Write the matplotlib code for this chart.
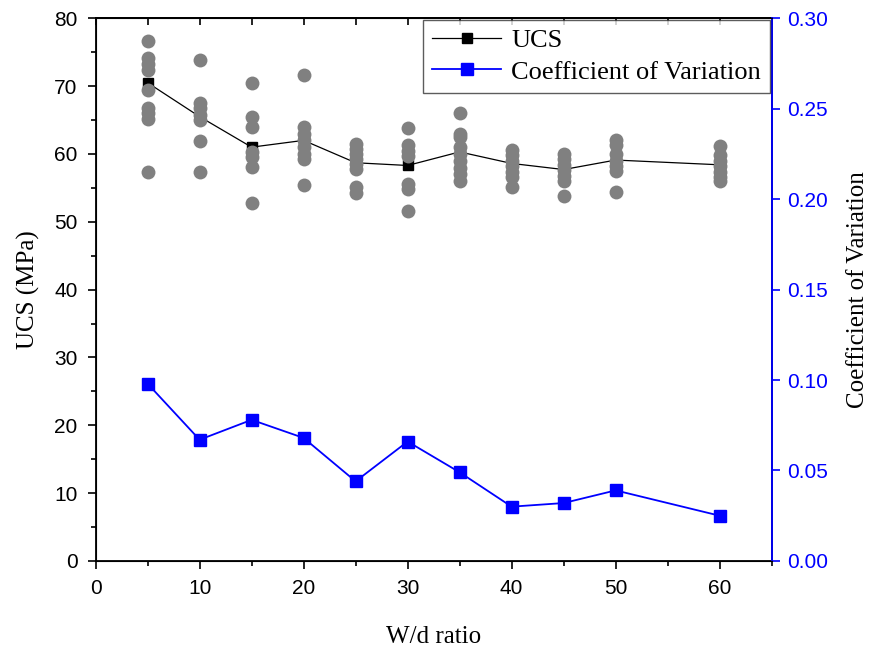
import matplotlib
matplotlib.use("Agg")
import matplotlib.pyplot as plt
from matplotlib.ticker import MultipleLocator, FormatStrFormatter, NullFormatter
from matplotlib.lines import Line2D
from matplotlib import font_manager

wd = [5, 10, 15, 20, 25, 30, 35, 40, 45, 50, 60]
ucs_mean = [70.5, 65.5, 61.0, 62.0, 58.7, 58.3, 60.3, 58.6, 57.7, 59.1, 58.4]
cov = [0.098, 0.067, 0.078, 0.068, 0.044, 0.066, 0.049, 0.030, 0.032, 0.039, 0.025]

ucs_samples = {
    5: [76.7, 74.1, 73.3, 72.4, 69.5, 66.7, 66.0, 65.1, 57.4],
    10: [73.8, 67.5, 66.7, 65.8, 65.0, 61.9, 57.4],
    15: [70.4, 65.5, 64.0, 60.3, 59.5, 58.1, 52.8],
    20: [71.6, 64.0, 63.0, 62.0, 61.0, 60.0, 59.2, 55.4],
    25: [61.5, 60.7, 60.0, 59.2, 58.5, 57.8, 55.1, 54.2],
    30: [63.8, 61.3, 60.5, 59.7, 55.5, 54.8, 51.6],
    35: [66.0, 63.0, 62.5, 61.0, 60.0, 59.0, 58.0, 57.0, 56.0],
    40: [60.6, 59.8, 59.0, 58.2, 57.4, 56.6, 55.1],
    45: [60.0, 59.2, 58.4, 57.6, 56.8, 56.0, 53.8],
    50: [62.1, 61.3, 60.0, 59.0, 58.2, 57.5, 54.4],
    60: [61.2, 59.8, 59.0, 58.2, 57.4, 56.6, 56.0],
}

serif = ["Liberation Serif", "DejaVu Serif"]
names = {f.name for f in font_manager.fontManager.ttflist}
if "Liberation Sans Narrow" in names:
    tickfont = ["Liberation Sans Narrow", "DejaVu Sans"]
    tsize = 16
else:
    tickfont = ["Liberation Sans", "DejaVu Sans"]
    tsize = 15

fig = plt.figure(figsize=(8.69, 6.53), dpi=100)
ax = fig.add_axes([0.110, 0.141, 0.778, 0.831])

ax.plot(wd, ucs_mean, color="black", lw=0.9, marker="s", ms=7, zorder=2)
for x, vals in ucs_samples.items():
    ax.scatter([x] * len(vals), vals, s=100, color="#808080", zorder=3, linewidths=0)

ax.set_xlim(0, 65)
ax.set_ylim(0, 80)
ax.xaxis.set_major_locator(MultipleLocator(10))
ax.xaxis.set_minor_locator(MultipleLocator(5))
ax.yaxis.set_major_locator(MultipleLocator(10))
ax.yaxis.set_minor_locator(MultipleLocator(5))
ax.tick_params(axis="both", which="major", direction="out", length=6, width=1.2,
               labelsize=tsize, pad=7)
ax.tick_params(axis="both", which="minor", direction="out", length=3.5, width=1.2)
for lab in ax.get_xticklabels() + ax.get_yticklabels():
    lab.set_family(tickfont)
for s in ax.spines.values():
    s.set_linewidth(1.3)

top = ax.secondary_xaxis("top")
top.xaxis.set_major_locator(MultipleLocator(10))
top.xaxis.set_minor_locator(MultipleLocator(5))
top.xaxis.set_major_formatter(NullFormatter())
top.tick_params(which="both", direction="in", length=5, width=1.2)
top.spines["top"].set_linewidth(1.3)

ax.set_xlabel("W/d ratio", family=serif, fontsize=18, labelpad=20)
ax.set_ylabel("UCS (MPa)", family=serif, fontsize=18, labelpad=10)

ax2 = ax.twinx()
ax2.plot(wd, cov, color="blue", lw=1.3, marker="s", ms=8.5, zorder=3)
ax2.set_ylim(0, 0.30)
ax2.yaxis.set_major_locator(MultipleLocator(0.05))
ax2.yaxis.set_major_formatter(FormatStrFormatter("%.2f"))
ax2.tick_params(axis="y", which="major", direction="out", length=6, width=1.2,
                colors="blue", labelsize=tsize, pad=5)
for lab in ax2.get_yticklabels():
    lab.set_family(tickfont)
ax2.spines["right"].set_color("blue")
ax2.spines["right"].set_linewidth(1.3)
ax2.set_ylabel("Coefficient of Variation", family=serif, fontsize=18, labelpad=14)

handles = [
    Line2D([], [], color="black", lw=0.9, marker="s", ms=7),
    Line2D([], [], color="blue", lw=1.3, marker="s", ms=8.5),
]
leg = ax2.legend(handles, ["UCS", "Coefficient of Variation"], loc="upper right",
                 prop={"family": serif, "size": 19}, frameon=True, fancybox=False,
                 edgecolor="#333333", borderaxespad=0.05, handlelength=2.6,
                 handletextpad=0.4, borderpad=0.35, labelspacing=0.3)
leg.get_frame().set_linewidth(1.0)

fig.savefig("out.png", dpi=100)
